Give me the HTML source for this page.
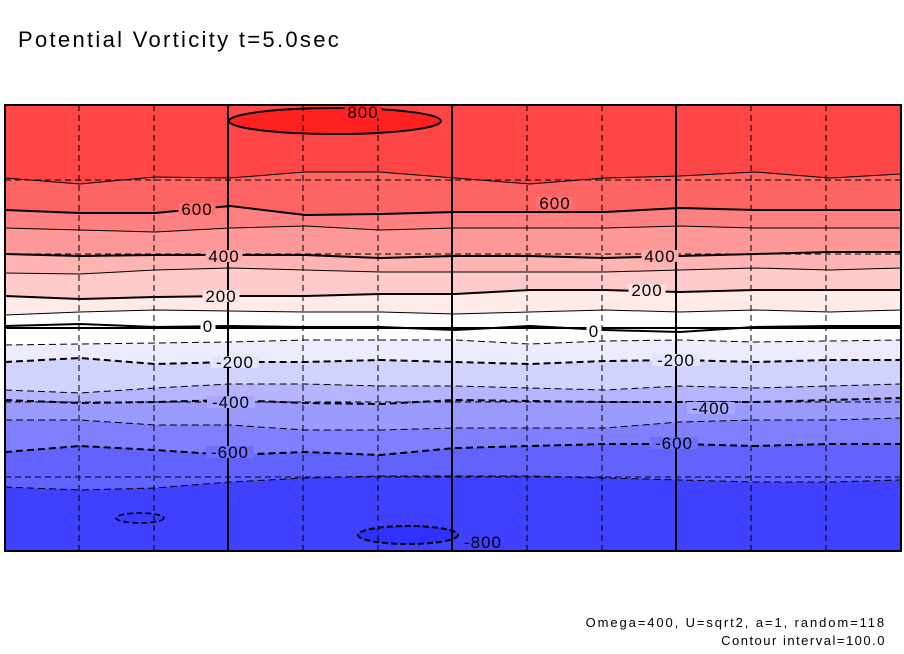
<!DOCTYPE html>
<html><head><meta charset="utf-8"><style>
body{margin:0;background:#fff;width:904px;height:654px;overflow:hidden}
svg{display:block}
text{font-family:"Liberation Sans","DejaVu Sans",sans-serif}
</style></head><body>
<svg id="chart" width="904" height="654" viewBox="0 0 904 654">
<text x="18" y="47" font-size="22" letter-spacing="2.3" fill="#000">Potential Vorticity t=5.0sec</text>
<defs><clipPath id="pc"><rect x="5" y="105" width="896" height="446"/></clipPath></defs>
<g id="plot" clip-path="url(#pc)"></g>
<g id="grid"></g>
<g id="labels"></g>
<rect x="5" y="105" width="896" height="446" fill="none" stroke="#000" stroke-width="2"/>
<text x="886" y="627" font-size="13" letter-spacing="1.9" text-anchor="end">Omega=400, U=sqrt2, a=1, random=118</text>
<text x="886" y="645" font-size="13" letter-spacing="1.5" text-anchor="end">Contour interval=100.0</text>
</svg>
<script>
const xSamples=[5,80,155,230,305,380,455,530,605,680,755,830,901];
const levels=[-700,-600,-500,-400,-300,-200,-100,0,100,200,300,400,500,600,700];
const contourY=[
[487,490,488,482,478,476,476,476,478,480,482,482,480],
[452,446,450,455,452,455,448,446,444,444,446,444,444],
[420,420,425,425,430,430,428,428,428,422,420,420,418],
[400,403,402,400,403,404,400,401,402,402,402,400,398],
[390,393,388,384,384,386,386,388,390,386,388,386,384],
[362,358,364,362,362,360,362,364,361,360,362,360,360],
[345,344,343,342,340,340,340,344,341,340,342,341,340],
[326,324,327,326,327,327,330,326,330,332,327,326,326],
[315,312,310,311,312,312,314,312,310,312,310,312,310],
[296,299,297,296,296,294,294,290,290,292,290,290,290],
[273,274,270,268,270,272,272,272,272,270,268,270,268],
[254,256,255,255,255,258,256,256,258,256,254,252,252],
[228,230,232,228,226,230,228,228,228,226,228,228,228],
[210,213,213,206,215,214,212,212,212,208,210,210,210],
[178,184,177,178,172,172,178,184,178,176,172,178,174]];
const bandColors=["#4040ff","#6262ff","#8080ff","#9a9aff","#b4b4ff","#d2d2ff","#ececfe","#ffffff","#ffffff","#ffeaea","#ffcaca","#ffb4b4","#ff9898","#ff8080","#ff6464","#ff4646"];
const labelText=["800","600","600","400","400","200","200","0","0","-200","-200","-400","-400","-600","-600","-800"];
const labelX=[363,197,555,224,660,221,647,208,594,235,676,231,711,230,674,483];
const labelY=[112,209,203,256,256,296,290,326,331,362,360,402,408,452,443,542];
const labelBg=["#ff2020","#ff7070","#ff7070","#ffa8a8","#ffa8a8","#ffe0e0","#ffe0e0","#ffffff","#ffffff","#e4e4fe","#e4e4fe","#a8a8ff","#a8a8ff","#7070ff","#7070ff","#4040ff"];
const NS="http://www.w3.org/2000/svg";
const plot=document.getElementById('plot');
function mk(t,a,p){const e=document.createElementNS(NS,t);for(const k in a)e.setAttribute(k,a[k]);p.appendChild(e);return e;}
const bg=mk('rect',{x:5,y:105,width:896,height:446,fill:bandColors[0]},plot);


function pts(i){return xSamples.map((x,j)=>x+','+contourY[i][j]).join(' ');}
levels.forEach((lv,i)=>{
  const poly=mk('polygon',{points:'5,100 '+pts(i)+' 901,100',fill:bandColors[i+1]},plot);
  
  
});
const e1=mk('ellipse',{cx:335,cy:121,rx:106,ry:13,fill:'#ff2020',stroke:'#000','stroke-width':2},plot);


const e2=mk('ellipse',{cx:408,cy:535,rx:50,ry:9,fill:'#3030ff',stroke:'#000','stroke-width':2,'stroke-dasharray':'6 3'},plot);


const e3=mk('ellipse',{cx:140,cy:518,rx:24,ry:5,fill:'#3a3aff',stroke:'#000','stroke-width':1.5,'stroke-dasharray':'6 3'},plot);


levels.forEach((lv,i)=>{
  const major=lv%200===0;
  const a={points:pts(i),fill:'none',stroke:'#000','stroke-width':major?2:1,'stroke-linejoin':'round'};
  if(lv<0)a['stroke-dasharray']='7 4';
  const l=mk('polyline',a,plot);
  
  
});
const grid=document.getElementById('grid');
[79,154,303,378,527,602,751,826].forEach(x=>{
  const g=mk('line',{x1:x,y1:105,x2:x,y2:551,stroke:'#000','stroke-width':1,'stroke-dasharray':'6 4'},grid);
  
  
});
[228,452,676].forEach(x=>{
  const g=mk('line',{x1:x,y1:105,x2:x,y2:551,stroke:'#000','stroke-width':2},grid);
  
  
});
[180,254,402,477].forEach(y=>{
  const g=mk('line',{x1:5,y1:y,x2:901,y2:y,stroke:'#000','stroke-width':1,'stroke-dasharray':'6 4'},grid);
  
  
});
const g0=mk('line',{x1:5,y1:328,x2:901,y2:328,stroke:'#000','stroke-width':2},grid);


const lab=document.getElementById('labels');
labelText.forEach((t,i)=>{
  const w=t.length*11+4;
  mk('rect',{x:labelX[i]-w/2,y:labelY[i]-6,width:w,height:12,fill:labelBg[i]},lab);
  const tx=mk('text',{x:labelX[i],y:labelY[i]+6,'font-size':17,'letter-spacing':1,'text-anchor':'middle',fill:'#000'},lab);
  tx.textContent=t;
  
  
});
</script>
</body></html>
